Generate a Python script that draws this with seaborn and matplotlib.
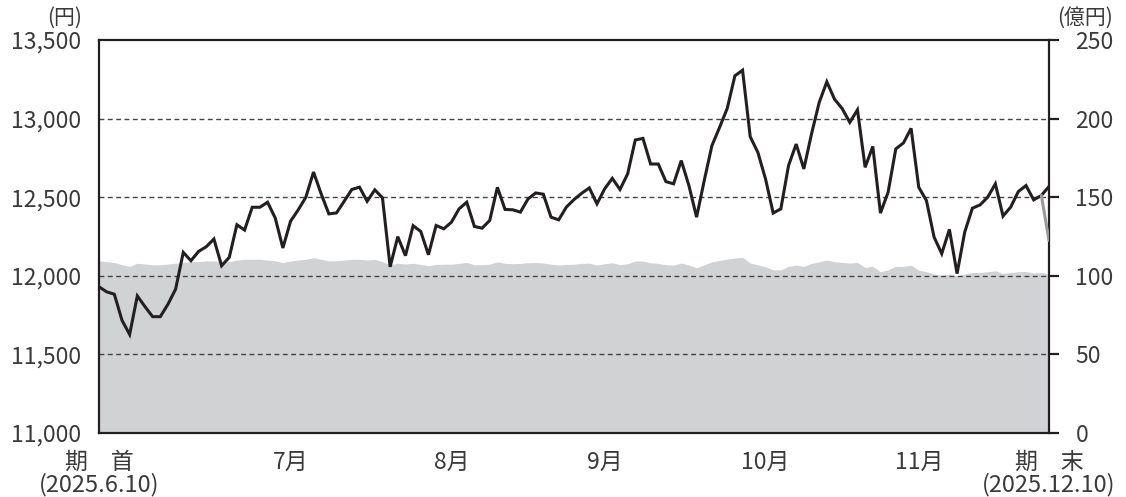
import numpy as np
import pandas as pd
import matplotlib
matplotlib.use("Agg")
import matplotlib.pyplot as plt
import matplotlib.transforms as mtransforms
import seaborn as sns

# price per unit (yen), one value per trading day 2025/6/10 - 2025/12/10
price = [
    11930, 11898, 11883, 11717, 11627, 11872, 11804, 11740, 11740, 11819,
    11915, 12149, 12096, 12155, 12185, 12234, 12064, 12117, 12325, 12291,
    12436, 12436, 12468, 12368, 12177, 12347, 12419, 12500, 12660, 12521,
    12394, 12400, 12474, 12549, 12564, 12474, 12547, 12496, 12057, 12249,
    12128, 12319,
    12282, 12134, 12320, 12299, 12341, 12426, 12468, 12314, 12303, 12352,
    12563, 12422, 12420, 12405, 12489, 12527, 12519, 12373, 12356, 12437,
    12485, 12525, 12559, 12458, 12553, 12620, 12549, 12648, 12864, 12874,
    12711, 12711, 12599, 12585, 12733, 12574, 12373, 12606, 12828, 12944,
    13065, 13272, 13308, 12885, 12785, 12616, 12399, 12426, 12701, 12838,
    12680, 12902, 13102, 13234, 13124, 13064, 12976, 13056, 12690, 12823,
    12399, 12532, 12807, 12845, 12938, 12563, 12479, 12246, 12141, 12295,
    12014, 12278, 12430, 12451, 12500, 12585, 12380, 12437, 12536, 12574,
    12483, 12511, 12568,
]

# net assets (100 million yen)
net_assets = [
    109.5, 109.0, 108.5, 107.0, 106.0, 108.0, 107.5, 107.0, 107.0, 107.5,
    108.0, 108.5, 109.0, 109.0, 109.5, 109.5, 109.0, 109.0, 110.0, 110.5,
    110.5, 110.5, 110.0, 109.5, 108.5, 109.5, 110.0, 110.5, 111.5, 110.5,
    109.5, 109.5, 110.0, 110.5, 110.5, 110.0, 110.5, 109.0, 107.0, 108.0,
    107.5, 108.0,
    107.2, 106.4, 107.2, 107.4, 107.4, 107.9, 108.5, 107.0, 107.0, 107.4,
    108.9, 107.9, 107.7, 107.9, 108.3, 108.5, 108.1, 107.4, 106.8, 107.2,
    107.4, 107.9, 108.1, 106.8, 107.7, 108.3, 107.0, 107.7, 109.4, 109.4,
    108.3, 107.9, 107.0, 106.8, 108.1, 106.8, 105.1, 107.0, 108.9, 109.8,
    110.6, 111.3, 111.7, 108.1, 107.0, 105.7, 103.8, 103.8, 106.0, 106.8,
    106.0, 107.9, 108.9, 110.0, 108.9, 108.5, 108.1, 108.5, 105.3, 106.0,
    102.6, 103.8, 106.0, 106.0, 106.8, 103.6, 102.6, 101.1, 100.4, 101.1,
    100.0, 101.1, 102.1, 102.1, 102.6, 103.2, 101.5, 102.1, 102.6, 102.8,
    101.7, 102.1, 101.1,
]

# gray segment at the very end (last two days)
ref_day = [123, 124]
ref_price = [12511, 12225]

month_labels = ["7月", "8月", "9月", "10月", "11月"]
month_centers = [25, 46, 66, 87, 107]
month_ticks = [14, 36.2, 56.3, 76.1, 98.2, 116.2]

left_ticks = [11000, 11500, 12000, 12500, 13000, 13500]
right_ticks = [0, 50, 100, 150, 200, 250]

df = pd.DataFrame({"day": np.arange(len(price)), "price": price, "net_assets": net_assets})
ref_df = pd.DataFrame({"day": ref_day, "price": ref_price})

sns.set_style("white")
plt.rcParams["font.family"] = ["Noto Sans CJK JP", "DejaVu Sans"]

text_color = "#3a3a3a"
line_color = "#231f20"
last_day = len(price) - 1

fig = plt.figure(figsize=(11.26, 4.97), dpi=100)
ax = fig.add_axes([99 / 1126, 64 / 497, 950 / 1126, 393 / 497])
ax2 = ax.twinx()

# net assets area (right scale), bottom axes
ax.fill_between(df["day"], df["net_assets"], 0, color="#d1d2d4", linewidth=0, zorder=1)
ax.set_ylim(0, 250)
ax.set_xlim(0, last_day)
ax.yaxis.tick_right()
ax.yaxis.set_label_position("right")
ax.set_yticks(right_ticks)
ax.set_yticklabels([str(v) for v in right_ticks])
ax.tick_params(axis="y", which="both", left=False, labelleft=False, right=True,
               labelright=True, direction="out", length=7, width=1.6,
               color=line_color, pad=12, labelsize=16.5, labelcolor=text_color)

# dashed grid
for v in right_ticks[1:-1]:
    ax.axhline(v, color="#444444", linewidth=1.0, linestyle=(0, (3.5, 2.5)), zorder=2)

ax.set_xticks(month_ticks)
ax.set_xticklabels([])
ax.tick_params(axis="x", direction="in", length=7, width=2, color=line_color)
ax.set_xlabel("")
ax.set_ylabel("")

for s in ax.spines.values():
    s.set_color(line_color)
    s.set_linewidth(1.6)

# price line (left scale), top axes
sns.lineplot(data=df, x="day", y="price", ax=ax2, color=line_color, linewidth=2.2,
             zorder=3)
sns.lineplot(data=ref_df, x="day", y="price", ax=ax2, color="#9a9a9a", linewidth=2.2,
             zorder=3)
for line in ax2.get_lines():
    line.set_solid_joinstyle("miter")
ax2.set_ylim(11000, 13500)
ax2.set_xlim(0, last_day)
ax2.set_yticks(left_ticks)
ax2.set_yticklabels([f"{v:,}" for v in left_ticks])
ax2.tick_params(axis="y", which="both", left=True, labelleft=True, right=False,
                labelright=False, length=0, pad=13, labelsize=16.5,
                labelcolor=text_color)
ax2.set_xlabel("")
ax2.set_ylabel("")
for s in ax2.spines.values():
    s.set_visible(False)

# unit labels
fig.text(65 / 1126, 1 - 18 / 497, "(円)", ha="center", va="center", fontsize=15,
         color=text_color)
fig.text(1085 / 1126, 1 - 18 / 497, "(億円)", ha="center", va="center", fontsize=15,
         color=text_color)

# x labels
trans = mtransforms.blended_transform_factory(ax.transData, fig.transFigure)
for lab, c in zip(month_labels, month_centers):
    ax.text(c, 1 - 462 / 497, lab, transform=trans, ha="center", va="center",
            fontsize=16.5, color=text_color)
ax.text(0, 1 - 462 / 497, "期\u3000首", transform=trans, ha="center", va="center",
        fontsize=16.5, color=text_color)
ax.text(0, 1 - 485 / 497, "(2025.6.10)", transform=trans, ha="center", va="center",
        fontsize=17, color=text_color)
ax.text(last_day, 1 - 462 / 497, "期\u3000末", transform=trans, ha="center",
        va="center", fontsize=16.5, color=text_color)
ax.text(last_day, 1 - 485 / 497, "(2025.12.10)", transform=trans, ha="center",
        va="center", fontsize=17, color=text_color)

fig.savefig("out.png", dpi=100)
